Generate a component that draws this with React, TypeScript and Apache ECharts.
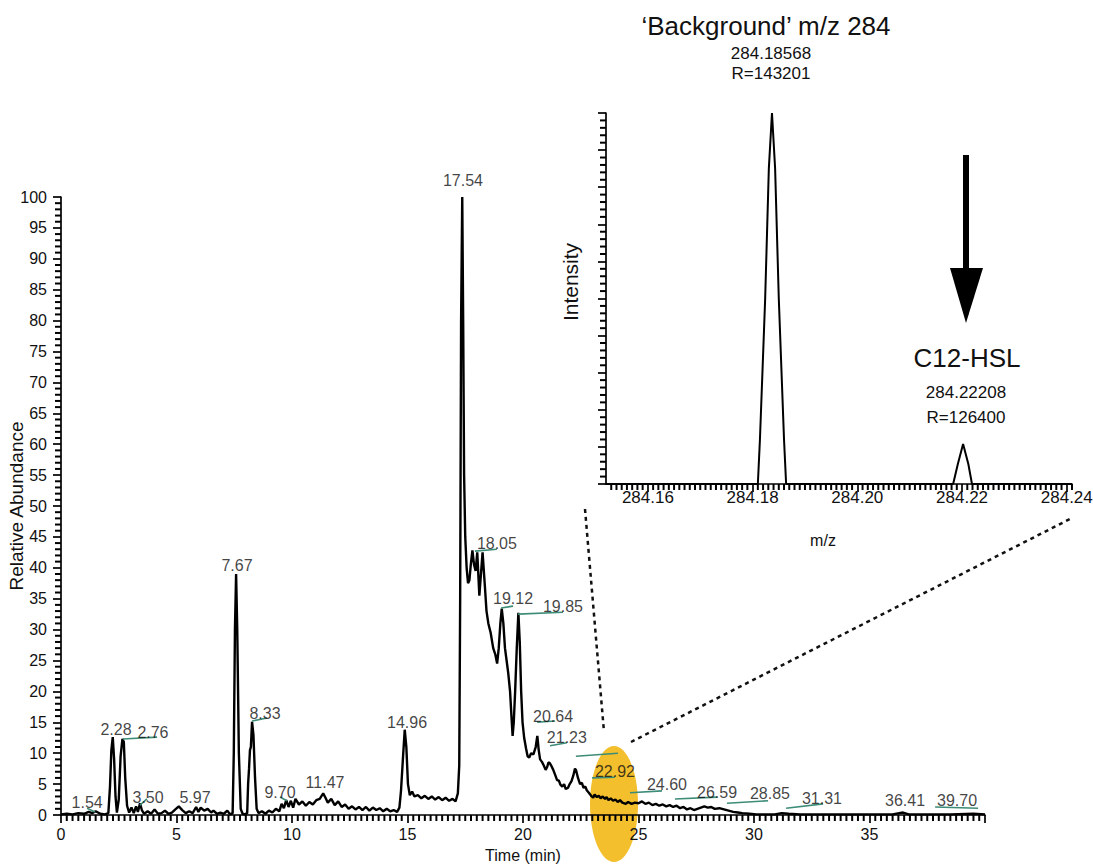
import React, { useEffect, useRef } from "react";
import * as echarts from "echarts";

const FONT = '"Liberation Sans", Arial, Helvetica, sans-serif';

// Total ion chromatogram: [time (min), relative abundance (%)]
const chromatogram: [number, number][] = [
  [0, 0.1], [0.25, 0.2], [0.5, 0.1], [0.75, 0.3], [1.0, 0.2], [1.2, 0.5], [1.35, 0.3], [1.5, 0.6], [1.7, 0.2], [1.9, 0.1], [2.05, 0.3],
  [2.12, 4.5], [2.18, 10.5], [2.24, 12.6], [2.3, 9], [2.36, 3], [2.42, 0.4], [2.5, 2.5], [2.58, 9.5], [2.66, 12.3], [2.72, 11.8], [2.78, 6], [2.86, 1.5], [2.95, 0.4],
  [3.05, 1.2], [3.15, 0.3], [3.25, 1.4], [3.33, 0.5], [3.42, 1.9], [3.5, 0.8], [3.6, 0.2], [3.75, 0.6], [3.9, 0.2], [4.05, 0.9], [4.2, 0.2], [4.35, 0.3], [4.5, 0.7], [4.65, 0.2], [4.8, 0.4], [4.95, 0.9], [5.1, 1.4], [5.25, 0.8], [5.4, 0.3], [5.55, 0.6], [5.7, 0.3], [5.85, 1.3], [5.95, 0.5], [6.05, 1.2], [6.2, 0.7], [6.35, 1.0], [6.5, 0.4], [6.6, 0.7], [6.75, 0.2], [6.9, 0.4], [7.05, 0.2], [7.2, 0.7], [7.32, 0.1],
  [7.43, 0.3], [7.48, 10], [7.53, 30], [7.58, 39], [7.63, 30], [7.7, 10], [7.78, 1], [7.86, 0.2], [7.96, 0.1],
  [8.06, 0.3], [8.1, 5], [8.14, 7.5], [8.18, 10.5], [8.22, 11], [8.27, 15.1], [8.33, 13], [8.4, 6], [8.47, 1], [8.55, 0.3],
  [8.7, 0.6], [8.85, 0.2], [9.0, 0.7], [9.15, 0.4], [9.3, 1.0], [9.45, 0.6], [9.55, 1.8], [9.65, 1.1], [9.75, 2.4], [9.85, 1.3], [9.95, 2.3], [10.05, 1.2], [10.15, 2.6], [10.3, 1.7], [10.45, 2.2], [10.6, 1.5], [10.75, 2.1], [10.9, 1.7], [11.05, 2.4], [11.2, 2.6], [11.35, 3.5], [11.45, 2.8], [11.55, 2.0], [11.7, 2.6], [11.85, 1.6], [12.0, 2.2], [12.15, 1.3], [12.3, 1.7], [12.45, 1.0], [12.6, 1.4], [12.75, 0.9], [12.9, 1.3], [13.05, 0.8], [13.2, 1.3], [13.35, 0.7], [13.5, 1.2], [13.65, 0.8], [13.8, 1.1], [13.95, 0.6], [14.1, 1.0], [14.25, 0.6], [14.4, 0.8], [14.55, 0.5],
  [14.65, 1.2], [14.72, 4], [14.8, 9], [14.88, 13.8], [14.95, 11], [15.02, 5], [15.1, 3.2], [15.2, 3.8], [15.3, 3.0], [15.45, 3.2], [15.6, 2.7], [15.75, 3.1], [15.9, 2.6], [16.05, 3.0], [16.2, 2.5], [16.35, 2.9], [16.5, 2.4], [16.65, 2.8], [16.8, 2.3], [16.95, 2.6], [17.08, 2.2], [17.18, 3.5], [17.24, 8],
  [17.28, 35], [17.32, 80], [17.37, 100], [17.41, 80], [17.45, 55], [17.5, 45], [17.56, 40], [17.62, 37.5], [17.68, 38], [17.74, 40.5], [17.81, 42.8], [17.88, 40.5], [17.95, 39.5], [18.02, 42.5], [18.11, 35.5], [18.18, 39], [18.25, 42.5], [18.35, 37], [18.42, 33], [18.5, 31], [18.6, 29.5], [18.71, 27], [18.8, 26], [18.88, 24.5], [18.95, 27], [19.02, 31], [19.08, 33.4], [19.15, 31], [19.22, 27], [19.29, 25], [19.36, 23], [19.44, 20], [19.5, 16], [19.55, 12.8], [19.6, 15], [19.66, 20], [19.73, 27], [19.8, 32.7], [19.86, 28], [19.92, 20], [19.98, 15], [20.05, 12.5], [20.13, 10.8], [20.2, 9.5], [20.27, 9.3], [20.35, 10], [20.45, 9.8], [20.55, 11], [20.62, 12.8], [20.68, 10.5], [20.74, 9.0], [20.82, 8.6], [20.9, 8.0], [20.98, 7.3], [21.05, 7.8], [21.1, 8.5], [21.16, 8.4], [21.22, 8.0], [21.31, 7.3], [21.4, 6.4], [21.48, 5.6], [21.55, 5.6], [21.62, 4.9], [21.7, 4.6], [21.78, 5.0], [21.85, 4.2], [21.95, 4.4], [22.02, 5.0], [22.1, 5.5], [22.18, 6.4], [22.25, 7.5], [22.3, 7.2], [22.38, 6.0], [22.47, 5.0], [22.55, 5.2], [22.62, 4.4], [22.7, 4.6], [22.76, 4.0], [22.85, 3.6], [22.95, 3.1], [23.04, 2.8], [23.1, 3.3], [23.2, 2.9], [23.28, 3.1], [23.36, 2.7], [23.45, 3.0], [23.55, 2.6], [23.62, 2.9], [23.7, 2.4], [23.8, 2.7], [23.9, 2.3], [24.0, 2.5], [24.1, 2.1], [24.2, 2.4], [24.3, 2.0], [24.45, 1.8], [24.55, 2.1], [24.7, 1.8], [24.85, 2.0], [25.0, 1.9], [25.15, 2.2], [25.3, 1.8], [25.45, 2.0], [25.6, 1.6], [25.75, 1.8], [25.9, 1.5], [26.05, 1.7], [26.2, 1.4], [26.35, 1.6], [26.5, 1.3], [26.65, 1.5], [26.8, 1.1], [26.95, 1.3], [27.1, 0.9], [27.25, 1.1], [27.4, 0.8], [27.55, 1.0], [27.7, 1.2], [27.85, 1.4], [28.0, 1.2], [28.15, 1.3], [28.3, 1.0], [28.5, 1.1], [28.7, 0.9], [28.9, 0.7], [29.1, 0.5], [29.3, 0.4], [29.5, 0.3], [29.8, 0.2], [30.1, 0.1], [30.5, 0.1], [30.9, 0.1], [31.2, 0.3], [31.5, 0.2], [32, 0.1], [33, 0.1], [34, 0.1], [35, 0.1], [36, 0.1], [36.45, 0.4], [36.7, 0.1], [37.5, 0.1], [38.5, 0.1], [39.5, 0.2], [40, 0.1],
];

// Peak labels: [time, abundance of label centre, text]
const peakLabels: [number, number, string][] = [
  [1.13, 2.1, "1.54"], [2.38, 13.9, "2.28"], [3.98, 13.4, "2.76"], [3.77, 2.9, "3.50"], [5.8, 2.9, "5.97"],
  [7.62, 40.3, "7.67"], [8.83, 16.5, "8.33"], [9.48, 3.7, "9.70"], [11.43, 5.2, "11.47"], [14.98, 15.0, "14.96"],
  [17.4, 102.6, "17.54"], [18.87, 44.0, "18.05"], [19.57, 35.0, "19.12"], [21.73, 33.7, "19.85"], [21.3, 16.0, "20.64"],
  [21.9, 12.6, "21.23"], [23.98, 7.0, "22.92"], [26.23, 4.9, "24.60"], [28.4, 3.7, "26.59"], [30.69, 3.4, "28.85"],
  [32.94, 2.6, "31.31"], [36.54, 2.3, "36.41"], [38.79, 2.3, "39.70"],
];

// Leader lines of peak labels: [t1, a1, t2, a2]
const leaderLines: [number, number, number, number][] = [
  [1.13, 1.1, 1.47, 0.5], [2.68, 12.3, 4.16, 12.6], [3.42, 1.6, 3.72, 2.6], [8.27, 15.2, 8.92, 15.7], [9.48, 2.9, 9.78, 2.3],
  [17.92, 42.7, 18.87, 43.0], [19.05, 33.5, 19.57, 33.8], [19.78, 32.5, 21.73, 32.8], [20.61, 15.0, 21.39, 15.2],
  [21.17, 11.2, 21.9, 11.7], [22.29, 9.5, 24.11, 10.0], [22.99, 6.0, 23.98, 6.1], [24.63, 3.6, 26.02, 3.9],
  [26.58, 2.6, 28.4, 2.9], [28.83, 1.9, 30.61, 2.3], [31.39, 1.1, 32.99, 1.8], [37.84, 1.3, 39.7, 1.1],
];

// Inset mass spectrum
const spectrumMz = [284.152, 284.181, 284.1814, 284.1824, 284.1831, 284.1837, 284.1843, 284.185, 284.186, 284.1864, 284.2183, 284.2192, 284.2202, 284.2212, 284.2219, 284.241];
const spectrumIntensity = [0, 0, 12, 50, 85, 100, 85, 50, 12, 0, 0, 5.4, 10.8, 5.4, 0, 0];
const MZ_MIN = 284.152;
const MZ_MAX = 284.241;
const MZ_LABEL_MIN = 284.16;
const MZ_LABEL_MAX = 284.24;

export default function App() {
  const ref = useRef<HTMLDivElement>(null);
  useEffect(() => {
    if (!ref.current) return;
    const chart = echarts.init(ref.current, undefined, { renderer: "svg" });
    const black = "#000";
    const MAIN_W = 924, MAIN_H = 618, IN_W = 466, IN_H = 371;
    const pxPerMz = IN_W / (MZ_MAX - MZ_MIN);

    const txt = (text: string, x: number, y: number, size: number, extra: any = {}) => ({
      type: "text", x, y, ...extra,
      style: { text, fill: "#111", font: `${size}px ${FONT}`, fontSize: size, fontFamily: FONT, align: "center", verticalAlign: "middle", textAlign: "center", textVerticalAlign: "middle" },
    });
    const hiddenLine = { show: false, onZero: false };
    const line = () => ({ show: true, onZero: false, lineStyle: { color: black, width: 1.7 } });
    const tick = (len: number, w = 1.7) => ({ show: true, length: len, lineStyle: { color: black, width: w } });
    chart.setOption({
      animation: false,
      backgroundColor: "#fff",
      grid: [
        { left: 61, top: 197, width: MAIN_W, height: MAIN_H, outerBoundsMode: "none", containLabel: false },
        { left: 606, top: 113, width: IN_W, height: IN_H, outerBoundsMode: "none", containLabel: false },
        {
          left: 606 + (MZ_LABEL_MIN - MZ_MIN) * pxPerMz, top: 113,
          width: (MZ_LABEL_MAX - MZ_LABEL_MIN) * pxPerMz, height: IN_H, outerBoundsMode: "none", containLabel: false,
        },
      ],
      xAxis: [
        {
          gridIndex: 0, type: "value", min: 0, max: 40, interval: 5, position: "bottom",
          axisLine: line(), axisTick: tick(8),
          axisLabel: { color: "#111", fontSize: 16, fontFamily: FONT, margin: 11, formatter: (v: number) => (v === 40 ? "" : String(v)) },
          splitLine: { show: false },
          name: "Time (min)", nameLocation: "middle", nameGap: 32, nameMoveOverlap: false,
          nameTextStyle: { color: "#111", fontSize: 16, fontFamily: FONT },
        },
        {
          gridIndex: 1, type: "value", min: MZ_MIN, max: MZ_MAX, position: "bottom",
          axisLine: line(), axisTick: { show: false }, axisLabel: { show: false }, splitLine: { show: false },
        },
        {
          gridIndex: 2, type: "value", min: MZ_LABEL_MIN, max: MZ_LABEL_MAX, interval: 0.02, position: "bottom",
          axisLine: hiddenLine, axisTick: tick(8),
          axisLabel: { color: "#111", fontSize: 17, fontFamily: FONT, margin: 5, formatter: (v: number) => v.toFixed(2) },
          splitLine: { show: false },
        },
      ],
      yAxis: [
        {
          gridIndex: 0, type: "value", min: 0, max: 100, interval: 5, position: "left",
          axisLine: line(), axisTick: tick(8),
          axisLabel: { color: "#111", fontSize: 16, fontFamily: FONT, margin: 14 },
          splitLine: { show: false },
          name: "Relative Abundance", nameLocation: "middle", nameGap: 35, nameMoveOverlap: false,
          nameTextStyle: { color: "#111", fontSize: 19, fontFamily: FONT },
        },
        {
          gridIndex: 1, type: "value", min: 0, max: 100, interval: 10, position: "left",
          axisLine: line(), axisTick: tick(8), axisLabel: { show: false }, splitLine: { show: false },
        },
        { gridIndex: 2, type: "value", min: 0, max: 100, show: false },
      ],
      series: [
        {
          type: "line", xAxisIndex: 0, yAxisIndex: 0, data: chromatogram, showSymbol: false, symbol: "none",
          lineStyle: { color: "#000", width: 2.4 }, z: 3, clip: false,
        },
        {
          type: "lines", coordinateSystem: "cartesian2d", xAxisIndex: 0, yAxisIndex: 0,
          data: leaderLines.map(([a, b, c, d]) => ({ coords: [[a, b], [c, d]] })),
          lineStyle: { color: "#3d8c78", width: 1.6, opacity: 1 }, z: 4,
        },
        {
          type: "scatter", xAxisIndex: 0, yAxisIndex: 0, data: peakLabels, symbolSize: 1, clip: false,
          itemStyle: { color: "rgba(0,0,0,0)" },
          label: { show: true, position: "inside", color: "#111", fontSize: 16, fontFamily: FONT, formatter: (p: any) => p.data[2] },
          z: 5,
        },
        {
          type: "line", xAxisIndex: 1, yAxisIndex: 1,
          data: spectrumMz.map((m, i) => [m, spectrumIntensity[i]]),
          showSymbol: false, symbol: "none", lineStyle: { color: "#000", width: 2 }, z: 3,
        },
      ],
    });

    // Minor ticks: positions come from the chart's own scales via convertToPixel
    const TL = 6;
    const tickEls: any[] = [];
    const seg = (x1: number, y1: number, x2: number, y2: number) =>
      tickEls.push({ type: "line", silent: true, z: 50, shape: { x1, y1, x2, y2 }, style: { stroke: "#000", lineWidth: 2 } });
    for (let i = 1; i < 160; i++) if (i % 20 !== 0) {
      const p = chart.convertToPixel({ gridIndex: 0 } as any, [i / 4, 0]) as number[];
      if (p) seg(p[0], p[1], p[0], p[1] + TL);
    }
    for (let i = 1; i < 100; i++) if (i % 5 !== 0) {
      const p = chart.convertToPixel({ gridIndex: 0 } as any, [0, i]) as number[];
      if (p) seg(p[0] - TL, p[1], p[0], p[1]);
    }
    for (let i = 153; i <= 241; i++) if ((i - 160) % 20 !== 0) {
      const p = chart.convertToPixel({ gridIndex: 1 } as any, [284 + i / 1000, 0]) as number[];
      if (p) seg(p[0], p[1], p[0], p[1] + TL);
    }
    for (let i = 2; i < 100; i += 2) if (i % 10 !== 0) {
      const p = chart.convertToPixel({ gridIndex: 1 } as any, [MZ_MIN, i]) as number[];
      if (p) seg(p[0] - TL, p[1], p[0], p[1]);
    }

    chart.setOption({
      graphic: [
        { type: "ellipse", z: -10, shape: { cx: 614, cy: 804, rx: 24, ry: 58 }, style: { fill: "#f4bf2c" } },
        { type: "line", shape: { x1: 585, y1: 509, x2: 604, y2: 732 }, style: { stroke: "#111", lineWidth: 2.5, lineDash: [4, 4] } },
        { type: "line", shape: { x1: 631, y1: 742, x2: 1070, y2: 519 }, style: { stroke: "#111", lineWidth: 2.5, lineDash: [4, 4] } },
        { type: "rect", shape: { x: 963, y: 155, width: 6, height: 115 }, style: { fill: "#000" } },
        { type: "polygon", shape: { points: [[950, 268], [983, 268], [966, 323]] }, style: { fill: "#000" } },
        txt("\u2018Background\u2019 m/z 284", 766, 26, 26),
        txt("284.18568", 771, 53, 17),
        txt("R=143201", 771, 73, 17),
        txt("C12-HSL", 967, 358, 26),
        txt("284.22208", 966, 392, 17),
        txt("R=126400", 966, 417, 17),
        txt("m/z", 823, 540, 16),
        txt("Intensity", 570, 282, 21, { rotation: Math.PI / 2 }),
        { type: "group", children: tickEls },
      ],
    });
    return () => chart.dispose();
  }, []);
  return <div ref={ref} style={{ position: "fixed", left: 0, top: 0, width: 1093, height: 865, background: "#fff" }} />;
}
